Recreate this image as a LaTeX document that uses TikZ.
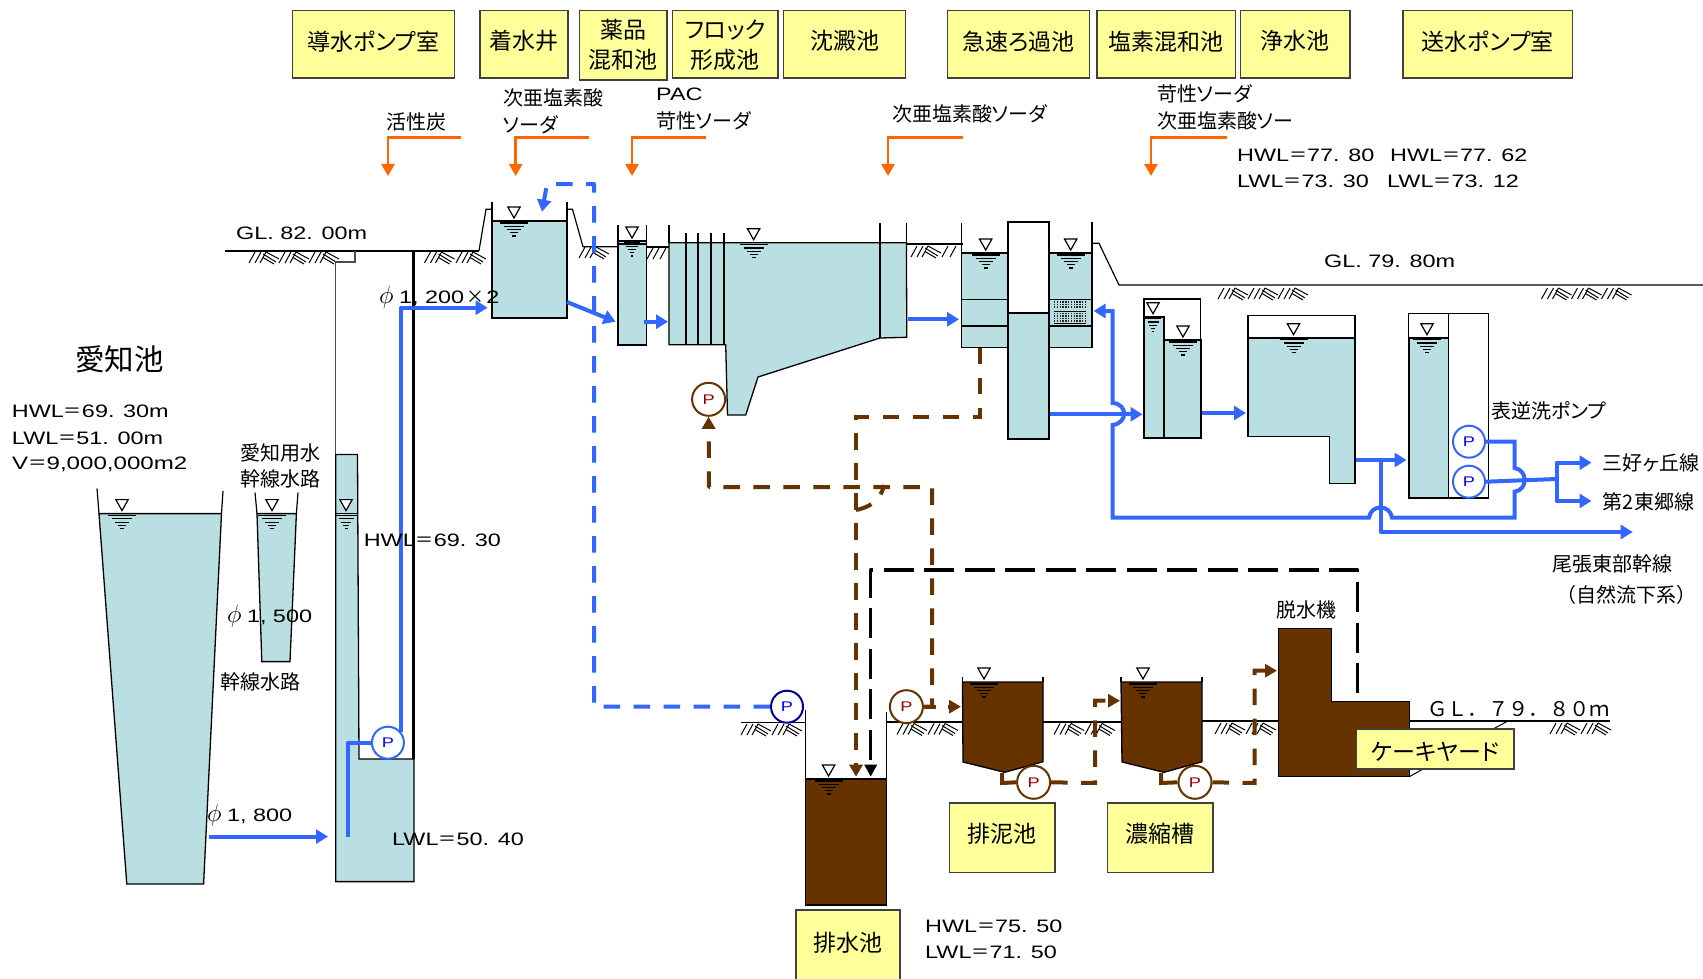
\documentclass[tikz,border=0pt]{standalone}
\usepackage{fontspec}
\usetikzlibrary{arrows.meta}
\setmainfont[FakeStretch=1.3]{Liberation Sans}
\newfontfamily\jpw{Noto Sans CJK JP}
\newfontfamily\jpf[RawFeature={+palt}]{Noto Sans CJK JP}
\newcommand\fsz[2]{\fontsize{#1}{#2}\selectfont}
\newcommand\eq{{\jpw ＝}}
\newcommand\phs{\makebox[20pt][l]{\fsz{24}{24}$\phi$}}
\definecolor{water}{HTML}{B9DFE2}
\definecolor{bluef}{HTML}{3366FF}
\definecolor{brownf}{HTML}{663300}
\definecolor{yel}{HTML}{FFFF99}
\definecolor{oran}{HTML}{FF6600}
\definecolor{pred}{HTML}{990000}
\tikzset{
  wat/.style={fill=water,draw=black,line width=1.3pt,line join=miter},
  mud/.style={fill=brownf,draw=black,line width=1.3pt,line join=miter},
  wall/.style={draw=black,line width=1.2pt},
  wline/.style={draw=black,line width=1.8pt},
  bflow/.style={draw=bluef,line width=4pt,line join=round},
  btip/.style={-{Triangle[length=12pt,width=14pt]}},
  mtip/.style={-{Triangle[length=12pt,width=13pt]}},
  bdash/.style={bflow,dash pattern=on 16.5pt off 13.5pt},
  mflow/.style={draw=brownf,line width=4pt,line join=round},
  mdash/.style={mflow,dash pattern=on 16.5pt off 13.5pt},
  kdash/.style={draw=black,line width=3.2pt,dash pattern=on 30pt off 10.5pt,line join=round},
  oflow/.style={draw=oran,line width=2.5pt,-{Triangle[length=12pt,width=13pt]}},
  pumpb/.style={circle,draw=bluef,fill=white,line width=2pt,minimum size=32pt,inner sep=0pt,text=blue,font=\fsz{14}{14}},
  pumpm/.style={circle,draw=brownf,fill=white,line width=2pt,minimum size=33pt,inner sep=0pt,text=pred,font=\fsz{14}{14}},
  ybox/.style={fill=yel,draw=black!75,line width=1.5pt,inner sep=0pt},
  ytxt/.style={inner sep=0pt,align=center,font=\jpf\fsz{23}{30}},
  jt/.style={inner sep=0pt,anchor=west,font=\jpf\fsz{20}{20}},
  lt/.style={inner sep=0pt,anchor=west,font=\fsz{18}{18}},
}
% water-level symbol: x, y of the surface
\newcommand\wsym[3][1]{%
  \draw[black,line width=1.2pt,fill=white] (#2-6.2,#3-14) -- (#2+6.2,#3-14) -- (#2,#3-3) -- cycle;
  \begin{scope}[black,line width=1.1pt]
   \draw (#2-14*#1,#3+2) -- (#2+14*#1,#3+2);
   \draw (#2-10*#1,#3+5.3) -- (#2+10*#1,#3+5.3);
   \draw (#2-7*#1,#3+8.6) -- (#2+7*#1,#3+8.6);
   \draw (#2-4*#1,#3+11.9) -- (#2+4*#1,#3+11.9);
   \draw (#2-2*#1,#3+15) -- (#2+2*#1,#3+15);
  \end{scope}}
% ground hatch unit
\newcommand\hunit[2]{%
  \begin{scope}[shift={(#1,#2)},black,line width=1pt]
   \draw (0,11) -- (6,0) (6,11) -- (12,0) (11,11) -- (17,0);
   \draw (14,2) -- (27,10) (14,5.5) -- (25,12) (17,0) -- (30,7);
  \end{scope}}
% box: name, x1, y1, x2, y2, text raise, text
\newcommand\yb[7]{\node[ybox,minimum width=#4pt-#2pt,minimum height=#5pt-#3pt] (#1) at ({(#2+#4)/2},{(#3+#5)/2}) {};
  \node[ytxt,yshift=#6pt] (#1t) at (#1.center) {#7};}
\begin{document}
\begin{tikzpicture}[x=1pt,y=-1pt]
\useasboundingbox (0,0) rectangle (1703,979);
% ---- ground lines
\draw[wline] (225,250.7) -- (479,250.7);
\draw[wall] (479,250.7) -- (486,209.3) -- (492,209.3);
\draw[wall] (567,209.3) -- (572.5,209.3) -- (583,246.7) -- (618,246.7);
\draw[wline] (646,247) -- (669,247);
\draw[wline] (907,244.3) -- (963,244.3);
\draw[wall] (1093,243.3) -- (1099,243.3) -- (1119,285) -- (1703,285);
\draw[wall] (740.7,722.7) -- (805.7,722.7);
\draw[wall] (886.4,722) -- (962,722);
\draw[wline] (1043,722) -- (1121,722);
\draw[wline] (1202,721) -- (1278,721);
\draw[wline] (1409,721) -- (1610,721);
% ---- ground hatching
\foreach \x in {249,279,309} {\hunit{\x}{252}}
\foreach \x in {424.5,456} {\hunit{\x}{252}}
\hunit{579}{247}
\draw[black,line width=1pt] (647,259) -- (653,248) (653,259) -- (659,248) (660,259) -- (666,248);
\foreach \x in {911} {\hunit{\x}{246}}
\draw[black,line width=1pt] (942,257) -- (948,246) (950,257) -- (956,246);
\foreach \x in {1218,1248,1278} {\hunit{\x}{288}}
\foreach \x in {1541.5,1571.5,1601.5} {\hunit{\x}{288}}
\foreach \x in {741,772} {\hunit{\x}{724}}
\foreach \x in {897,928} {\hunit{\x}{723.5}}
\foreach \x in {1054,1085} {\hunit{\x}{723.5}}
\foreach \x in {1215,1246} {\hunit{\x}{723}}
\foreach \x in {1550,1581} {\hunit{\x}{723}}
% ---- lake and canal
\draw[wat] (99,513.6) -- (221.5,513.6) -- (203.6,884) -- (126.8,884) -- cycle;
\draw[wall] (97,488.5) -- (99,513.6) (223,491) -- (221.5,513.6);
\wsym[1]{122}{513.6}
\draw[wat] (257,513.6) -- (296.4,513.6) -- (290,661.6) -- (261.8,661.6) -- cycle;
\draw[wall] (255,492.5) -- (257,513.6) (298,492.5) -- (296.4,513.6);
\wsym[1]{272}{513.6}
% ---- intake well
\draw[wat] (335.7,454.4) -- (357.5,454.4) -- (359,759) -- (414,759) -- (414,881.6) -- (335.7,881.6) -- cycle;
\draw[wall] (335.7,513.6) -- (357.5,513.6);
\wsym[.75]{346}{513.6}
\draw[black!70,line width=1.3pt] (335.7,454.4) -- (335.7,262) -- (355,262) -- (355,250.7);
\draw[black,line width=2.8pt] (413.6,250.7) -- (413.6,759);
% ---- receiving well
\fill[water] (492,221) rectangle (567,318);
\draw[wall] (492,201.7) -- (492,318) -- (567,318) -- (567,201.7);
\draw[wall] (492,221) -- (567,221);
\wsym[1]{514}{221}
% ---- mixing basin
\fill[water] (618,241) rectangle (646.5,345);
\draw[wall] (618,225) -- (618,345) -- (646.5,345) -- (646.5,225);
\draw[wall] (618,241) -- (646.5,241);
\draw[wall] (618,244) -- (646.5,244);
\wsym[.6]{632}{241}
% ---- flocculation + sedimentation
\draw[wat] (669,242.7) -- (906.4,242.7) -- (906.8,337.3) -- (880,338) -- (758,377) -- (745.7,415) -- (727.5,415) -- (725.7,344.7) -- (669,344.7) -- cycle;
\draw[wall] (669,225) -- (669,242.7);
\foreach \x in {686,698,711,724} {\draw[wall] (\x,233) -- (\x,344.7);}
\draw[wall] (880,223) -- (880,338) (906.4,223) -- (906.4,242.7);
\wsym[1]{753.6}{242.7}
% ---- rapid filter
\fill[water] (961.8,253) rectangle (1008,347.3);
\draw[wall] (961.8,223) -- (961.8,347.3) -- (1008,347.3);
\draw[wline] (961.8,253) -- (1008,253);
\draw[wall] (961.8,299.3) -- (1008,299.3) (961.8,326) -- (1008,326);
\wsym[1]{985.7}{253}
\fill[water] (1049,253) rectangle (1092,347.7);
\draw[wall] (1049,347.7) -- (1092,347.7) -- (1092,222);
\draw[wline] (1049,253) -- (1092,253);
\draw[wall] (1049,299.3) -- (1092,299.3) (1049,326) -- (1092,326);
\wsym[1]{1070.7}{253}
\foreach \y in {302,304.5,307,313.5,316,318.5,321} {\draw[black!85,line width=1.6pt,dash pattern=on 1.4pt off 1.4pt] (1054,\y) -- (1086,\y);}
\draw[black,line width=1pt] (1054,311) -- (1086,311) (1054,323.3) -- (1086,323.3);
\draw[wall,fill=white] (1008,222) rectangle (1049,313);
\draw[wat] (1008,313) rectangle (1049,439);
% ---- chlorine mixing
\draw[black,line width=1.2pt,fill=white] (1144,299) rectangle (1200.8,437.7);
\draw[wat,line width=1.8pt] (1144,316.7) -- (1163.8,316.7) -- (1163.8,437.7) -- (1144,437.7) -- cycle;
\draw[wat,line width=1.8pt] (1163.8,340) -- (1200.8,340) -- (1200.8,437.7) -- (1163.8,437.7) -- cycle;
\wsym[.55]{1153}{316.7}
\wsym[1]{1183}{340}
% ---- clear-water reservoir
\draw[black,line width=1.2pt,fill=white] (1248,315.7) rectangle (1355,337.7);
\draw[wat] (1248,337.7) -- (1355,337.7) -- (1355,483.3) -- (1329.6,483.3) -- (1329.6,436.7) -- (1248,436.7) -- cycle;
\draw[wline] (1248,337.7) -- (1355,337.7);
\wsym[1]{1293.5}{337.7}
% ---- distribution pump room
\draw[black,line width=1.3pt,fill=white] (1408.8,313.7) rectangle (1488.5,498);
\draw[wat,line width=1.8pt] (1408.8,337.7) -- (1448.5,337.7) -- (1448.5,498) -- (1408.8,498) -- cycle;
\draw[wline] (1448.5,313.7) -- (1448.5,337.7);
\wsym[1]{1427}{337.7}
% ---- sludge side
\fill[brownf] (805.7,779) rectangle (886.4,905);
\draw[wall] (805.7,710) -- (805.7,905) -- (886.4,905) -- (886.4,712);
\draw[wline] (805.7,779) -- (886.4,779);
\wsym[1]{828.6}{779}
\draw[mud] (962.5,682) -- (1043,682) -- (1043,761.7) -- (1004.6,772.3) -- (963,762) -- cycle;
\draw[wall] (962.5,677) -- (962.5,682) (1043,677) -- (1043,682);
\wsym[1]{984}{682}
\draw[mud] (1121,682) -- (1202,682) -- (1202,761.7) -- (1164,772.3) -- (1122,762) -- cycle;
\draw[wall] (1121,677) -- (1121,682) (1202,677) -- (1202,682);
\wsym[1]{1143}{682}
\draw[mud,line width=1pt] (1278,628) -- (1331.7,628) -- (1331.7,701.7) -- (1409.3,701.7) -- (1409.3,776.7) -- (1278,776.7) -- cycle;
% ---- pumps
\node[pumpb] (pIntake) at (387.9,742.7) {\raisebox{-1.5pt}{P}};
\node[pumpb] (pBack1) at (1469,441.7) {P};
\node[pumpb] (pBack2) at (1469,481.7) {P};
\node[pumpb,draw=blue!60!black,text=blue] (pDrain) at (787,706.7) {\raisebox{-1.5pt}{P}};
\node[pumpm] (pSed) at (708.6,399.3) {\raisebox{-2.5pt}{P}};
\node[pumpm] (pRet) at (906.4,706.7) {\raisebox{-1.5pt}{P}};
\node[pumpm] (pThick1) at (1033.6,782.3) {P};
\node[pumpm] (pThick2) at (1195,782.3) {P};
% ---- free ends of connectors
\coordinate (lakeOut) at (209,836.6);
\coordinate (wellIn) at (328,836.6);
\coordinate (wellFoot) at (348,837);
\coordinate (recvIn) at (487.6,307.7);
\coordinate (recvOut) at (567,302);
\coordinate (mixIn) at (615.6,321.7);
\coordinate (mixOut) at (643.7,321.7);
\coordinate (flocIn) at (668,321.7);
\coordinate (sedOut) at (908,319.3);
\coordinate (filtIn) at (959,319.3);
\coordinate (filtOut) at (1050,414.3);
\coordinate (chlIn) at (1142.5,414.3);
\coordinate (chlOut) at (1202,413);
\coordinate (resIn) at (1246,413);
\coordinate (resOut) at (1355.8,460);
\coordinate (pumpIn) at (1406.5,460);
\coordinate (junc) at (1380.8,460);
\coordinate (nat) at (1632.7,532);
\coordinate (bwTo) at (1093.6,311);
\coordinate (lineA) at (1591.5,462.7);
\coordinate (lineB) at (1591.5,501);
\coordinate (recvDrop) at (542,211.7);
\coordinate (filtDrain) at (980.4,347.7);
\coordinate (drainA) at (856,776.7);
\coordinate (drainB) at (870.7,776.7);
\coordinate (mudIn) at (961,706.7);
\coordinate (cakeTop) at (1357.7,693);
% ---- blue flows
\draw[bflow,btip] (lakeOut) -- (wellIn);
\draw[bflow] (wellFoot) |- (pIntake.west);
\draw[bflow,btip] (pIntake.40) |- (recvIn);
\draw[bdash,btip] (pDrain.west) -- (594,706.7) -- (594,184) -- (547,184) -- (recvDrop);
\draw[bflow,btip] (recvOut) -- (mixIn);
\draw[bflow,btip] (mixOut) -- (flocIn);
\draw[bflow,btip] (sedOut) -- (filtIn);
\draw[bflow,btip] (filtOut) -- (chlIn);
\draw[bflow,btip] (chlOut) -- (resIn);
\draw[bflow,btip] (resOut) -- (pumpIn);
\draw[bflow,btip] (junc) -- (1380.8,532) -- (nat);
\draw[bflow,btip,line join=miter] (pBack1.east) -- (1514.6,441.7) -- (1514.6,468) .. controls (1528,470) and (1528,490) .. (1514.6,491.7) -- (1514.6,517.7) -- (1392,517.7) .. controls (1390,504) and (1371,504) .. (1369,517.7) -- (1112.7,517.7) -- (1112.7,425) .. controls (1128,423) and (1128,404) .. (1112.7,403) -- (1112.7,311) -- (bwTo);
\draw[bflow] (pBack2.east) -- (1556.5,479);
\draw[bflow,btip] (1556.5,479) |- (lineA);
\draw[bflow,btip] (1556.5,479) |- (lineB);
% ---- sludge flows
\draw[mdash,mtip,line join=miter] (filtDrain) -- (980.4,416.7) -- (856,416.7) -- (drainA);
\draw[mdash,mtip] (pRet.east) -- (932,706.7) -- (932,487) -- (709,487) -- (pSed.south);
\draw[mdash] (856,510) .. controls (866,508) and (880,503) .. (884,485);
\draw[mdash,mtip,dash pattern=on 12pt off 12pt] (pRet.east) -- (mudIn);
\draw[mflow,line join=miter] (1002,773) -- (1002,783) -- (pThick1.west);
\draw[mdash,mtip,line join=miter] (pThick1.east) -- (1095,783) -- (1095,700.7) -- (1120,700.7);
\draw[mflow,line join=miter] (1161,773) -- (1161,783) -- (pThick2.west);
\draw[mdash,mtip,line join=miter] (pThick2.east) -- (1254.6,783) -- (1254.6,670.7) -- (1277,670.7);
\draw[kdash,-{Triangle[length=12pt,width=12pt]}] (cakeTop) -- (1357.7,570) -- (870.7,570) -- (drainB);
% ---- orange dosing lines
\coordinate (dA) at (388,176);\coordinate (dB) at (515.7,176);\coordinate (dC) at (632,176);\coordinate (dD) at (888,176);\coordinate (dE) at (1151,176);
\draw[oflow] (461,137.5) -- (388,137.5) -- (dA);
\draw[oflow] (589,137.5) -- (515.7,137.5) -- (dB);
\draw[oflow] (705.8,137.5) -- (632,137.5) -- (dC);
\draw[oflow] (963,137.5) -- (888,137.5) -- (dD);
\draw[oflow] (1227,137.5) -- (1151,137.5) -- (dE);
% ---- boxes
\yb{bA}{292.4}{10.5}{454.5}{78}{3}{導水ポンプ室}
\yb{bB}{480}{10.5}{568}{78}{3}{着水井}
\yb{bC}{579.4}{10.5}{667}{80}{0.5}{薬品\\混和池}
\yb{bD}{672.6}{10.5}{778}{78}{-1}{フロック\\形成池}
\yb{bE}{783.7}{10.5}{905.4}{78}{3}{沈澱池}
\yb{bF}{947.6}{10.5}{1089.4}{78}{3}{急速ろ過池}
\yb{bG}{1097}{10.5}{1235.5}{78}{3}{塩素混和池}
\yb{bH}{1240.5}{10.5}{1350}{78}{3}{浄水池}
\yb{bI}{1403}{10.5}{1572.6}{78}{3}{送水ポンプ室}
\yb{bJ}{796}{910}{900}{980}{2}{排水池}
\yb{bK}{949.6}{803}{1055}{872.7}{4}{排泥池}
\yb{bL}{1107.5}{803}{1213}{872.7}{4}{濃縮槽}
\draw[black,line width=1pt] (1506.7,721.7) -- (1493,729) (1423,769) -- (1409.3,776.7);
\yb{bM}{1356.7}{729}{1514}{769}{-3}{ケーキヤード}
% ---- labels
\node[jt] (t1) at (386,122) {活性炭};
\node[jt] (t2) at (503,97.7) {次亜塩素酸};
\node[jt] (t3) at (503,124.5) {ソーダ};
\node[lt] (t4) at (656,94) {PAC};
\node[jt] (t5) at (656,120.7) {苛性ソーダ};
\node[jt] (t6) at (892,113.5) {次亜塩素酸ソーダ};
\node[jt] (t7) at (1157,93.5) {苛性ソーダ};
\node[jt] (t8) at (1157,120.7) {次亜塩素酸ソー};
\node[lt] (t9) at (1237,155) {HWL\eq 77. 80};
\node[lt] (t10) at (1390,155) {HWL\eq 77. 62};
\node[lt] (t11) at (1237,181.5) {LWL\eq 73. 30};
\node[lt] (t12) at (1387,181.5) {LWL\eq 73. 12};
\node[lt] (t13) at (236,233) {GL. 82. 00m};
\node[lt] (t14) at (1324,261) {GL. 79. 80m};
\node[lt] (t15) at (379,297) {\phs 1, 200\makebox[22pt][c]{\jpw ×}2};
\node[inner sep=0pt,font=\jpw\fsz{29.5}{30}] (t16) at (119.6,359) {愛知池};
\node[lt] (t17) at (11.8,411) {HWL\eq 69. 30m};
\node[lt] (t18) at (11.8,438) {LWL\eq 51. 00m};
\node[lt,xscale=1.03] (t19) at (11.8,464) {V\eq 9,000,000m2};
\node[jt,anchor=center] (t20) at (280.5,453) {愛知用水};
\node[jt,anchor=center] (t21) at (280.5,479) {幹線水路};
\node[lt] (t22) at (226.8,616) {\phs 1, 500};
\node[jt,anchor=center] (t23) at (260.7,681.6) {幹線水路};
\node[lt] (t24) at (207,815) {\phs 1, 800};
\node[lt] (t25) at (363.6,540) {HWL\eq 69. 30};
\node[lt] (t26) at (392,839) {LWL\eq 50. 40};
\node[jt] (t27) at (1491,410.7) {表逆洗ポンプ};
\node[jt] (t28) at (1602.7,462.7) {三好ヶ丘線};
\node[jt] (t29) at (1602.7,501.7) {第2東郷線};
\node[jt] (t30) at (1552,564) {尾張東部幹線};
\node[jt,font=\jpw\fsz{20}{20}] (t31) at (1556,595) {（自然流下系）};
\node[jt,anchor=center] (t32) at (1306,610) {脱水機};
\node[jt,font=\jpw\fsz{20.3}{20}] (t33) at (1427,709.5) {ＧＬ．７９．８０ｍ};
\node[lt] (t34) at (925,926.5) {HWL\eq 75. 50};
\node[lt] (t35) at (925,952.5) {LWL\eq 71. 50};
\end{tikzpicture}
\end{document}
